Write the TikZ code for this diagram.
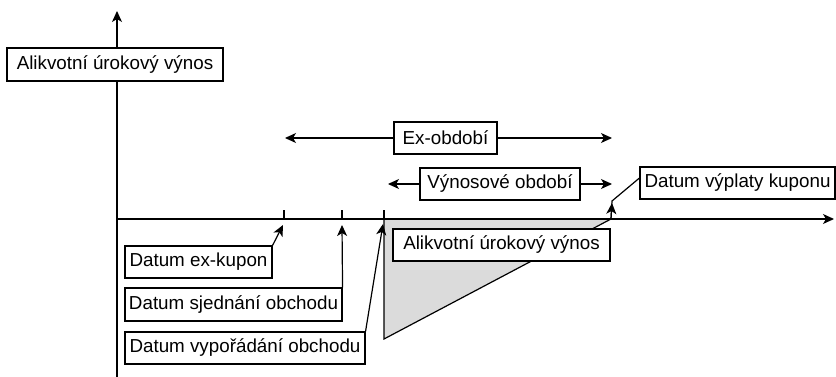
\documentclass[tikz,border=0pt]{standalone}
\usepackage{fontspec}
\setmainfont{Liberation Sans}
\usetikzlibrary{arrows.meta}
\begin{document}
\begin{tikzpicture}[x=1pt,y=-1pt,
  lbl/.style={draw, fill=white, line width=1.1pt, font=\fontsize{18.8}{22}\selectfont, inner sep=0pt, minimum height=32pt, align=center},
  ln/.style={line width=1.2pt},
  tip/.style={-{Stealth[length=11pt,width=10pt,inset=3pt]}},
]
\useasboundingbox (0,0) rectangle (836,377);
% coordinates
\coordinate (yb) at (117,377);
\coordinate (yt) at (117,11);
\coordinate (xl) at (117,219);
\coordinate (xr) at (834,219);
\coordinate (t1) at (284,219);
\coordinate (t2) at (342,219);
\coordinate (t3) at (384,219);
\coordinate (t4) at (611,219);
\coordinate (tb) at (384,339);
% triangle
\draw[ln, fill=gray!28] (t3) -- (t4) -- (tb) -- cycle;
% axes
\draw[ln,tip] (yb) -- (yt);
\draw[ln,tip] (xl) -- (xr);
\draw[ln] (t1) -- ++(0,-9);
\draw[ln] (t2) -- ++(0,-9);
\draw[ln] (t3) -- ++(0,-9);
% axis label
\node[lbl, minimum width=216pt, minimum height=33pt] (ylab) at (115,64.5) {Alikvotní úrokový výnos};
% periods
\coordinate (exL) at (285,138);
\coordinate (exR) at (612,138);
\node[lbl, minimum width=103pt] (ex) at (445.5,138) {Ex-období};
\draw[ln,tip] (ex.west) -- (exL);
\draw[ln,tip] (ex.east) -- (exR);
\coordinate (vyL) at (388,184);
\coordinate (vyR) at (612,184);
\node[lbl, minimum width=160pt] (vy) at (500,184) {Výnosové období};
\draw[ln,tip] (vy.west) -- (vyL);
\draw[ln,tip] (vy.east) -- (vyR);
% coupon payment date
\node[lbl, minimum width=195pt] (vk) at (737.5,183) {Datum výplaty kuponu};
\coordinate (vpk) at (612,201);
\coordinate (vpa) at (612,203);
\draw[ln] (t4) -- (vpk) -- ([yshift=5pt]vk.west);
\draw[ln,tip] (t4) -- (vpa);
% accrued interest box
\node[lbl, minimum width=217pt] (ai) at (501.5,245) {Alikvotní úrokový výnos};
% bottom boxes
\node[lbl, minimum width=147pt] (ek) at (198.5,262) {Datum ex-kupon};
\node[lbl, minimum width=217pt, minimum height=33pt] (sj) at (233.5,304.5) {Datum sjednání obchodu};
\node[lbl, minimum width=240pt] (vo) at (245,348) {Datum vypořádání obchodu};
\coordinate (a1) at (283,225);
\coordinate (a2) at (342,225);
\coordinate (a3) at (383,224);
\draw[ln,tip] (ek.north east) -- (a1);
\draw[ln,tip] (sj.north east) -- (a2);
\draw[ln,tip] (vo.north east) -- (a3);
\end{tikzpicture}
\end{document}
